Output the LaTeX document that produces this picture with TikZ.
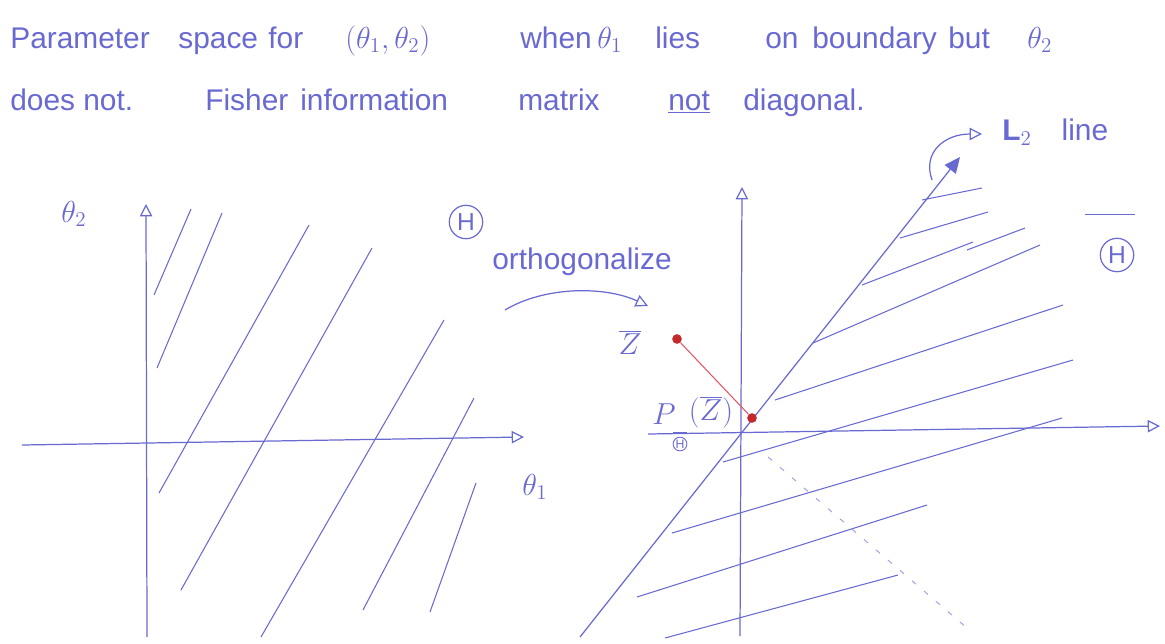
\documentclass[tikz,border=0pt]{standalone}
\usepackage{fontspec}
\setmainfont{Liberation Sans}
\usetikzlibrary{arrows.meta}
\definecolor{pen}{RGB}{105,105,210}
\definecolor{penred}{RGB}{195,40,45}
\definecolor{redline}{RGB}{228,85,100}

\begin{document}
\begin{tikzpicture}[
        x=0.02cm, y=-0.02cm,
        ink/.style={draw=pen, line width=0.7pt},
        axis/.style={ink, -{Triangle[open, length=7pt, width=7pt]}},
        hatch/.style={draw=pen, line width=0.6pt},
        word/.style={anchor=base west, text=pen, inner sep=0pt, font=\fontsize{17}{20}\selectfont},
        lab/.style={text=pen, inner sep=0pt, font=\fontsize{17}{20}\selectfont},
        region/.style={circle, draw=pen, text=pen, line width=0.7pt, inner sep=0pt, minimum size=19pt, font=\fontsize{14}{16}\selectfont},
        dot/.style={circle, fill=penred, inner sep=0pt, minimum size=5.5pt},
    ]
    \useasboundingbox (0,0) rectangle (1165,643);

    % ===== Heading, line 1 =====
    \node[word] (w1) at (10,48) {Parameter};
    \node[word] (w2) at (178,48) {space};
    \node[word] (w3) at (268,48) {for};
    \node[word] (w4) at (345,48) {$(\theta_1,\theta_2)$};
    \node[word] (w5) at (520,48) {when};
    \node[word] (w6) at (597,48) {$\theta_1$};
    \node[word] (w7) at (655,48) {lies};
    \node[word] (w8) at (765,48) {on};
    \node[word] (w9) at (812,48) {boundary};
    \node[word] (w10) at (948,48) {but};
    \node[word] (w11) at (1027,48) {$\theta_2$};

    % ===== Heading, line 2 =====
    \node[word] (v1) at (10,110) {does not.};
    \node[word] (v2) at (205,110) {Fisher};
    \node[word] (v3) at (300,110) {information};
    \node[word] (v4) at (518,110) {matrix};
    \node[word] (v5) at (668,110) {\underline{not}};
    \node[word] (v6) at (743,110) {diagonal.};

    % ===== Left: original parameter space =====
    \coordinate (lyb) at (147,637);
    \coordinate (lyt) at (146,204);
    \coordinate (lxl) at (22,445);
    \coordinate (lxr) at (524,437);
    \draw[axis] (lyb) -- (lyt);
    \draw[axis] (lxl) -- (lxr);
    \node[lab] (th2) at (74,214) {$\theta_2$};
    \node[lab] (th1) at (535,487) {$\theta_1$};
    \node[region] (H) at (466,222) {H};

    % hatching of H
    \draw[hatch] (154,295) -- (191,209);
    \draw[hatch] (157,368) -- (222,213);
    \draw[hatch] (159,493) -- (309,225);
    \draw[hatch] (181,590) -- (372,248);
    \draw[hatch] (261,637) -- (444,320);
    \draw[hatch] (363,610) -- (474,398);
    \draw[hatch] (430,612) -- (476,483);

    % ===== Transformation arrow =====
    \node[lab] (orth) at (582,262) {orthogonalize};
    \coordinate (orthA) at (505,310);
    \coordinate (orthB) at (648,306);
    \draw[axis] (orthA) .. controls (545,286) and (605,286) .. (orthB);

    % ===== Right: orthogonalized space =====
    \coordinate (ryb) at (740,636);
    \coordinate (ryt) at (742,187);
    \coordinate (rxl) at (648,434);
    \coordinate (rxr) at (1160,426);
    \draw[axis] (ryb) -- (ryt);
    \draw[axis] (rxl) -- (rxr);

    % boundary line
    \coordinate (bdl) at (580,637);
    \coordinate (bdt) at (960,157);
    \draw[ink, -{Triangle[length=9pt, width=8pt]}] (bdl) -- (bdt);
    \coordinate (rotA) at (932,180);
    \coordinate (rotB) at (982,134);
    \draw[axis] (rotA) .. controls (922,152) and (945,134) .. (rotB);
    \node[lab, anchor=west] (ltwo) at (1002,132) {\textbf{L}$_2$\quad line};

    % hatching of H-bar
    \draw[hatch] (922,200) -- (982,188);
    \draw[hatch] (900,238) -- (988,212);
    \draw[hatch] (862,285) -- (973,242);
    \draw[hatch] (967,250) -- (1025,228);
    \draw[hatch] (813,343) -- (1040,245);
    \draw[hatch] (775,400) -- (1063,305);
    \draw[hatch] (723,462) -- (1073,360);
    \draw[hatch] (672,533) -- (1062,418);
    \draw[hatch] (637,597) -- (927,505);
    \draw[hatch] (665,638) -- (898,575);

    % perpendicular (dotted)
    \draw[draw=pen!60, line width=0.6pt, dash pattern=on 3pt off 6pt] (768,457) -- (967,628);

    \node[region] (Hbar) at (1117,255) {H};
    \draw[ink] ([shift={(-18pt,13pt)}]Hbar.north) -- ([shift={(10pt,13pt)}]Hbar.north);

    % ===== Projection of Z-bar =====
    \node[lab] (zlab) at (630,342) {$\overline{Z}$};
    \node[dot] (zdot) at (677,339) {};
    \node[dot] (pdot) at (752,418) {};
    \draw[draw=redline, line width=0.6pt] (zdot) -- (pdot);
    \node[lab] (pP) at (664,414) {$P$};
    \node[circle, draw=pen, text=pen, line width=0.5pt, inner sep=0.3pt, font=\fontsize{7}{8}\selectfont] (pH) at (680,444) {H};
    \draw[ink, line width=0.5pt] ([shift={(-4pt,2.5pt)}]pH.north) -- ([shift={(4pt,2.5pt)}]pH.north);
    \node[lab] (pZ) at (711,412) {$(\overline{Z})$};

\end{tikzpicture}
\end{document}
